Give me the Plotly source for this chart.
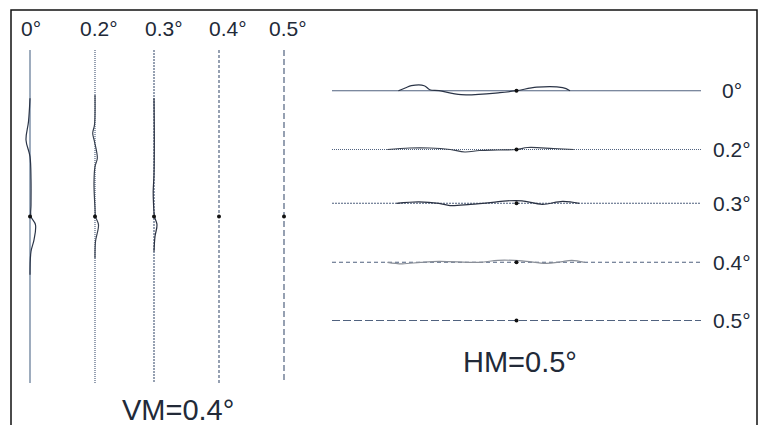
import plotly.graph_objects as go

# ---------------- data ----------------
V_LABELS = ["0°", "0.2°", "0.3°", "0.4°", "0.5°"]          # vertical meridians (VM)
H_LABELS = ["0°", "0.2°", "0.3°", "0.4°", "0.5°"]          # horizontal meridians (HM)
VM_TITLE = "VM=0.4°"
HM_TITLE = "HM=0.5°"

# deviation profiles: sample position along meridian (normalised, -1..1 from centre) and offset
V_T = {
    "0°":   [-0.71, -0.57, -0.46, -0.36, -0.22, -0.07, 0.0, 0.05, 0.14, 0.21, 0.35],
    "0.2°": [-0.73, -0.55, -0.50, -0.45, -0.35, -0.30, -0.20, -0.05, 0.0, 0.05, 0.15, 0.25],
    "0.3°": [-0.71, -0.45, -0.25, -0.15, -0.08, 0.0, 0.05, 0.12, 0.21],
}
V_OFF = {
    "0°":   [0.0, -1.5, -4.0, 0.0, 1.0, 1.0, 1.0, 5.5, 4.0, 1.0, 0.0],
    "0.2°": [0.0, -0.5, -2.3, -0.5, 2.3, 0.0, -1.0, 0.0, 0.5, 3.5, 0.5, 0.0],
    "0.3°": [0.0, 0.3, 0.0, -0.8, -0.5, 0.5, 3.0, 1.0, 0.0],
}
H_T = {
    "0°":   [-0.64, -0.60, -0.57, -0.50, -0.47, -0.42, -0.30, -0.09, 0.0, 0.11, 0.25, 0.29],
    "0.2°": [-0.70, -0.58, -0.47, -0.36, -0.28, -0.20, -0.10, 0.0, 0.06, 0.20, 0.31],
    "0.3°": [-0.65, -0.53, -0.42, -0.36, -0.25, -0.13, -0.05, 0.03, 0.14, 0.25, 0.34],
    "0.4°": [-0.70, -0.62, -0.52, -0.42, -0.20, -0.10, 0.03, 0.16, 0.24, 0.30, 0.37],
}
H_OFF = {
    "0°":   [0.0, -3.0, -5.0, -5.0, -1.0, 0.0, 4.0, 2.0, 0.0, -3.5, -3.0, 0.0],
    "0.2°": [0.0, -1.5, -1.5, 0.0, 2.5, 1.0, 0.5, 0.0, -2.0, -1.0, 0.0],
    "0.3°": [0.0, -1.5, 0.0, 2.3, 1.0, -1.0, -2.5, -2.5, 1.0, -2.0, 0.0],
    "0.4°": [0.0, 1.5, 0.0, -1.0, 0.0, -2.0, -1.5, 1.0, -0.5, -2.0, 0.0],
}

# ---------------- layout / style ----------------
W, H = 759, 425
V_X = [30, 95, 154, 219, 284]
V_LABEL_X = [31, 99, 164, 228, 288]
V_TOP, V_BOT = 50, 383
V_CY = (V_TOP + V_BOT) / 2
V_HALF = (V_BOT - V_TOP) / 2
H_Y = [90.7, 149.5, 203.3, 262.3, 320.5]
H_LEFT, H_RIGHT = 332, 701
H_CX = (H_LEFT + H_RIGHT) / 2
H_HALF = (H_RIGHT - H_LEFT) / 2
H_LABEL_X = 732
DASHES = ["solid", "1px,1px", "2px,1px", "3px,2px", "6px,3px"]
H_DASHES = ["solid", "1px,1px", "2px,1px", "4px,3px", "8px,3px"]
LINE_COL = "#50627f"
CURVE_COL = ["#2a3447", "#38404f", "#2a3142", "#8a8f98"]
TXT_COL = "#222a38"
FONT = "Liberation Sans, Arial, sans-serif"

fig = go.Figure()

# vertical meridians
for i, lab in enumerate(V_LABELS):
    x0 = V_X[i]
    fig.add_trace(go.Scatter(x=[x0, x0], y=[V_TOP, V_BOT], mode="lines",
                             line=dict(color="#5d7592" if i == 0 else LINE_COL, width=1.2, dash=DASHES[i]),
                             hoverinfo="skip", showlegend=False))
    if lab in V_T:
        ys = [V_CY + t * V_HALF for t in V_T[lab]]
        xs = [x0 + o for o in V_OFF[lab]]
        fig.add_trace(go.Scatter(x=xs, y=ys, mode="lines", line=dict(color=CURVE_COL[i], width=1.2, shape="spline"),
                                 hoverinfo="skip", showlegend=False))
    fig.add_trace(go.Scatter(x=[x0], y=[V_CY], mode="markers", marker=dict(color="#111", size=4),
                             hoverinfo="skip", showlegend=False))
    fig.add_annotation(x=V_LABEL_X[i], y=28, text=lab, showarrow=False,
                       font=dict(family=FONT, size=21, color=TXT_COL), xanchor="center", yanchor="middle")

# horizontal meridians
for i, lab in enumerate(H_LABELS):
    y0 = H_Y[i]
    fig.add_trace(go.Scatter(x=[H_LEFT, H_RIGHT], y=[y0, y0], mode="lines",
                             line=dict(color=LINE_COL, width=1.1, dash=H_DASHES[i]),
                             hoverinfo="skip", showlegend=False))
    if lab in H_T:
        xs = [H_CX + t * H_HALF for t in H_T[lab]]
        ys = [y0 + o for o in H_OFF[lab]]
        fig.add_trace(go.Scatter(x=xs, y=ys, mode="lines", line=dict(color=CURVE_COL[i], width=1.2, shape="spline"),
                                 hoverinfo="skip", showlegend=False))
    fig.add_trace(go.Scatter(x=[H_CX], y=[y0], mode="markers", marker=dict(color="#111", size=4),
                             hoverinfo="skip", showlegend=False))
    fig.add_annotation(x=H_LABEL_X, y=y0, text=lab, showarrow=False,
                       font=dict(family=FONT, size=21, color=TXT_COL), xanchor="center", yanchor="middle")

fig.add_annotation(x=178, y=410, text=VM_TITLE, showarrow=False,
                   font=dict(family=FONT, size=29, color=TXT_COL), xanchor="center", yanchor="middle")
fig.add_annotation(x=520, y=362, text=HM_TITLE, showarrow=False,
                   font=dict(family=FONT, size=29, color=TXT_COL), xanchor="center", yanchor="middle")

# frame
fig.add_shape(type="rect", x0=11, y0=10, x1=757, y1=440, xref="x", yref="y",
              line=dict(color="#111", width=1.5), fillcolor="rgba(0,0,0,0)")

fig.update_layout(width=W, height=H, margin=dict(l=0, r=0, t=0, b=0),
                  paper_bgcolor="white", plot_bgcolor="white",
                  xaxis=dict(range=[0, W], visible=False, fixedrange=True),
                  yaxis=dict(range=[H, 0], visible=False, fixedrange=True))

fig.write_html("out.html", config={"displayModeBar": False},
               post_script="document.body.style.margin='0';document.body.style.overflow='hidden';")
